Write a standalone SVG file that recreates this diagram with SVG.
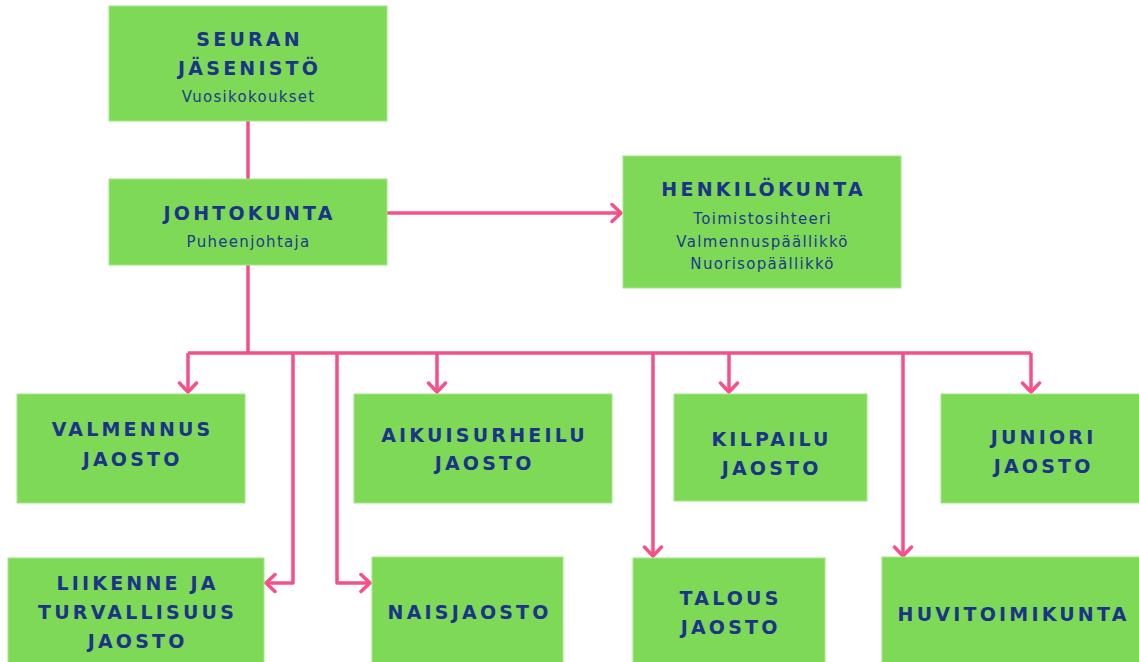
<svg xmlns="http://www.w3.org/2000/svg" width="1139" height="662" viewBox="0 0 1139 662">
<style>
.box{fill:#7ed957;stroke:#a3e68a;stroke-width:1}
.t{font-family:"DejaVu Sans","Liberation Sans",Arial,sans-serif;font-weight:bold;font-size:19px;letter-spacing:3.2px;fill:#1b3487;text-anchor:middle}
.s{font-family:"DejaVu Sans","Liberation Sans",Arial,sans-serif;font-size:15px;letter-spacing:1.3px;fill:#20398a;text-anchor:middle}
.c{fill:none;stroke:#f6508b;stroke-width:3.5;stroke-linejoin:round}
</style>
<defs>
<marker id="ah" markerUnits="userSpaceOnUse" markerWidth="14" markerHeight="22" viewBox="0 0 14 22" refX="11" refY="11" orient="auto">
<path d="M2,2.5 L11,11 L2,19.5" fill="none" stroke="#f6508b" stroke-width="3.5" stroke-linecap="round" stroke-linejoin="round"/>
</marker>
</defs>
<rect width="1139" height="662" fill="#fff"/>
<g id="connectors">
<path class="c" d="M248,121 V179"/>
<path class="c" d="M387,213 H621" marker-end="url(#ah)"/>
<path class="c" d="M248,265 V353"/>
<path class="c" d="M188,353 H1031"/>
<path class="c" d="M188,353 V392" marker-end="url(#ah)"/>
<path class="c" d="M437,353 V392" marker-end="url(#ah)"/>
<path class="c" d="M729,353 V392" marker-end="url(#ah)"/>
<path class="c" d="M1031,353 V392" marker-end="url(#ah)"/>
<path class="c" d="M293,353 V583 H266" marker-end="url(#ah)"/>
<path class="c" d="M337,353 V583 H370" marker-end="url(#ah)"/>
<path class="c" d="M653,353 V556" marker-end="url(#ah)"/>
<path class="c" d="M903,353 V556" marker-end="url(#ah)"/>
</g>
<g id="seuran">
<rect class="box" x="109" y="6" width="278" height="115"/>
<text class="t" x="249.6" y="46">SEURAN</text>
<text class="t" x="249.6" y="75">JÄSENISTÖ</text>
<text class="s" x="248.6" y="102">Vuosikokoukset</text>
</g>
<g id="johtokunta">
<rect class="box" x="109" y="179" width="278" height="86"/>
<text class="t" x="249.6" y="220">JOHTOKUNTA</text>
<text class="s" x="248.6" y="247">Puheenjohtaja</text>
</g>
<g id="henkilokunta">
<rect class="box" x="623" y="156" width="278" height="132"/>
<text class="t" x="763.6" y="196">HENKILÖKUNTA</text>
<text class="s" x="762.6" y="224">Toimistosihteeri</text>
<text class="s" x="762.6" y="247">Valmennuspäällikkö</text>
<text class="s" x="762.6" y="269">Nuorisopäällikkö</text>
</g>
<g id="valmennus">
<rect class="box" x="17" y="394" width="228" height="109"/>
<text class="t" x="132.6" y="436">VALMENNUS</text>
<text class="t" x="132.6" y="466">JAOSTO</text>
</g>
<g id="aikuisurheilu">
<rect class="box" x="354" y="394" width="258" height="109"/>
<text class="t" x="484.6" y="442">AIKUISURHEILU</text>
<text class="t" x="484.6" y="470">JAOSTO</text>
</g>
<g id="kilpailu">
<rect class="box" x="674" y="394" width="193" height="107"/>
<text class="t" x="771.6" y="446">KILPAILU</text>
<text class="t" x="771.6" y="475">JAOSTO</text>
</g>
<g id="juniori">
<rect class="box" x="941" y="394" width="201" height="109"/>
<text class="t" x="1043.6" y="444">JUNIORI</text>
<text class="t" x="1043.6" y="473">JAOSTO</text>
</g>
<g id="liikenne">
<rect class="box" x="8" y="558" width="256" height="110"/>
<text class="t" x="137.6" y="590">LIIKENNE JA</text>
<text class="t" x="137.6" y="619">TURVALLISUUS</text>
<text class="t" x="137.6" y="648">JAOSTO</text>
</g>
<g id="naisjaosto">
<rect class="box" x="372" y="557" width="191" height="110"/>
<text class="t" x="469.6" y="619">NAISJAOSTO</text>
</g>
<g id="talous">
<rect class="box" x="633" y="558" width="192" height="110"/>
<text class="t" x="730.6" y="605">TALOUS</text>
<text class="t" x="730.6" y="634">JAOSTO</text>
</g>
<g id="huvitoimikunta">
<rect class="box" x="882" y="557" width="260" height="110"/>
<text class="t" x="1013.6" y="621">HUVITOIMIKUNTA</text>
</g>
</svg>
